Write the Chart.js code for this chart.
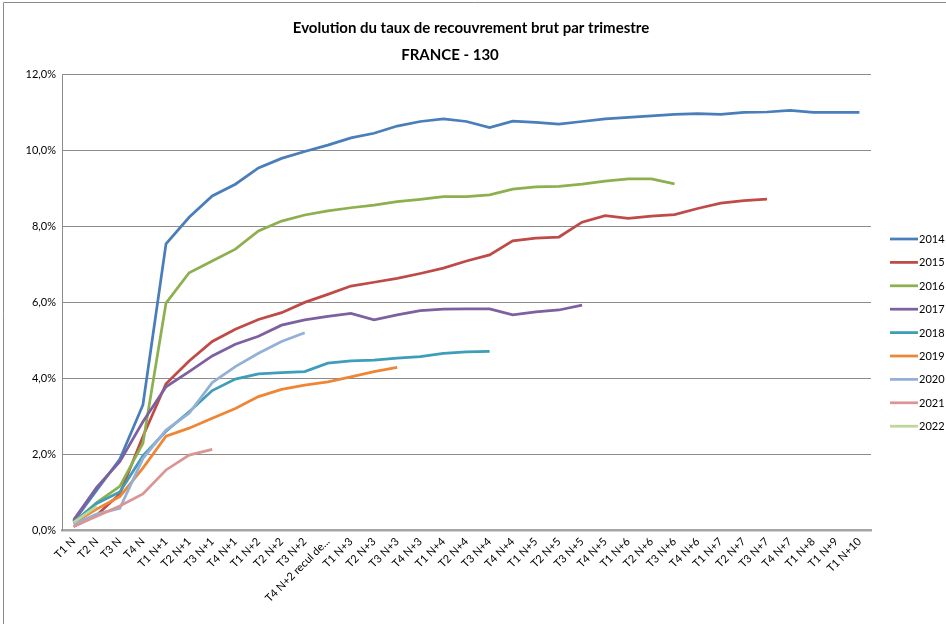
<!DOCTYPE html>
<html>
<head>
<meta charset="utf-8">
<script src="https://cdn.jsdelivr.net/npm/chart.js@4.4.1/dist/chart.umd.min.js"></script>
<style>
  html, body { margin: 0; padding: 0; background: #ffffff; }
  #wrap { position: relative; width: 946px; height: 624px; }
</style>
</head>
<body>
<div id="wrap"><canvas id="c" width="946" height="624"></canvas></div>
<script>
// Quarter labels along the horizontal axis
const categories = [
  'T1 N', 'T2 N', 'T3 N', 'T4 N',
  'T1 N+1', 'T2 N+1', 'T3 N+1', 'T4 N+1',
  'T1 N+2', 'T2 N+2', 'T3 N+2', 'T4 N+2 recul de...',
  'T1 N+3', 'T2 N+3', 'T3 N+3', 'T4 N+3',
  'T1 N+4', 'T2 N+4', 'T3 N+4', 'T4 N+4',
  'T1 N+5', 'T2 N+5', 'T3 N+5', 'T4 N+5',
  'T1 N+6', 'T2 N+6', 'T3 N+6', 'T4 N+6',
  'T1 N+7', 'T2 N+7', 'T3 N+7', 'T4 N+7',
  'T1 N+8', 'T1 N+9', 'T1 N+10'
];

// Gross recovery rate (%) per cohort year
const years = ['2014', '2015', '2016', '2017', '2018', '2019', '2020', '2021', '2022'];

const rate2014 = [0.22, 1.05, 1.86, 3.29, 7.53, 8.23, 8.79, 9.10, 9.53, 9.78, 9.96, 10.13,
  10.32, 10.44, 10.63, 10.75, 10.82, 10.75, 10.59, 10.76, 10.73, 10.68, 10.75, 10.82,
  10.86, 10.90, 10.94, 10.96, 10.94, 10.99, 11.00, 11.04, 10.99, 10.99, 10.99];
const rate2015 = [0.09, 0.39, 0.95, 2.46, 3.85, 4.45, 4.96, 5.28, 5.54, 5.72, 5.99, 6.20,
  6.42, 6.52, 6.62, 6.75, 6.89, 7.08, 7.24, 7.61, 7.68, 7.71, 8.10, 8.27,
  8.20, 8.26, 8.30, 8.46, 8.60, 8.67, 8.71];
const rate2016 = [0.19, 0.72, 1.15, 2.28, 5.97, 6.77, 7.08, 7.39, 7.87, 8.13, 8.29, 8.40,
  8.48, 8.55, 8.64, 8.70, 8.77, 8.77, 8.82, 8.97, 9.03, 9.04, 9.10, 9.18,
  9.24, 9.24, 9.11];
const rate2017 = [0.26, 1.12, 1.80, 2.85, 3.77, 4.17, 4.58, 4.89, 5.10, 5.39, 5.53, 5.62,
  5.70, 5.53, 5.66, 5.77, 5.81, 5.82, 5.82, 5.66, 5.74, 5.79, 5.92];
const rate2018 = [0.20, 0.70, 1.00, 1.95, 2.60, 3.11, 3.67, 3.97, 4.11, 4.14, 4.17, 4.39,
  4.45, 4.47, 4.52, 4.56, 4.65, 4.69, 4.70];
const rate2019 = [0.18, 0.55, 0.88, 1.63, 2.47, 2.68, 2.94, 3.20, 3.51, 3.70, 3.81, 3.90,
  4.03, 4.17, 4.28];
const rate2020 = [0.15, 0.42, 0.57, 1.88, 2.63, 3.07, 3.88, 4.30, 4.65, 4.96, 5.19];
const rate2021 = [0.09, 0.36, 0.63, 0.95, 1.58, 1.97, 2.12];
const rate2022 = [0.20, 0.62];

const yTicks = [0, 2, 4, 6, 8, 10, 12];

const seriesValues = [rate2014, rate2015, rate2016, rate2017, rate2018, rate2019, rate2020, rate2021, rate2022];
const lineColors = ['#4A7EBB', '#BE4B48', '#8DB04E', '#7D60A0', '#3E9DB8', '#EE8636', '#94B0D6', '#DA9694', '#BFD59B'];

const FONT = 'Lato, "Open Sans", "Liberation Sans", sans-serif';

const datasets = years.map((y, i) => ({
  label: y,
  data: seriesValues[i],
  borderColor: lineColors[i],
  backgroundColor: lineColors[i],
  borderWidth: 2.75,
  pointRadius: 0,
  pointHoverRadius: 0,
  tension: 0,
  fill: false,
  order: years.length - i
}));

// Titles, frame and legend drawn on the canvas
const decorations = {
  id: 'decorations',
  beforeDraw(chart) {
    const ctx = chart.ctx;
    ctx.save();
    ctx.fillStyle = '#ffffff';
    ctx.fillRect(0, 0, chart.width, chart.height);
    ctx.strokeStyle = '#8a8a8a';
    ctx.lineWidth = 1;
    ctx.beginPath();
    ctx.moveTo(3.5, chart.height);
    ctx.lineTo(3.5, 2.5);
    ctx.lineTo(chart.width, 2.5);
    ctx.stroke();
    ctx.restore();
  },
  afterDraw(chart) {
    const ctx = chart.ctx;
    ctx.save();
    ctx.fillStyle = '#000000';
    ctx.textAlign = 'center';
    ctx.textBaseline = 'middle';
    ctx.font = 'bold 15px ' + FONT;
    ctx.fillText('Evolution du taux de recouvrement brut par trimestre', 471, 28);
    ctx.fillText('FRANCE - 130', 450, 55);

    // legend
    ctx.font = '11px ' + FONT;
    ctx.textAlign = 'left';
    chart.data.datasets.forEach((ds, i) => {
      const y = 239 + i * 23.4;
      ctx.strokeStyle = ds.borderColor;
      ctx.lineWidth = 2.75;
      ctx.beginPath();
      ctx.moveTo(890, y);
      ctx.lineTo(918, y);
      ctx.stroke();
      ctx.fillStyle = '#000000';
      ctx.fillText(ds.label, 919, y + 0.5);
    });
    ctx.restore();
  }
};

new Chart(document.getElementById('c'), {
  type: 'line',
  data: { labels: categories, datasets },
  plugins: [decorations],
  options: {
    responsive: false,
    animation: false,
    devicePixelRatio: 1,
    layout: { padding: { left: 2, top: 74, right: 75, bottom: 0 } },
    plugins: {
      legend: { display: false },
      title: { display: false },
      tooltip: { enabled: false }
    },
    scales: {
      x: {
        offset: true,
        grid: { display: false, drawTicks: false },
        border: { color: '#a6a6a6', width: 2.5 },
        ticks: {
          autoSkip: false,
          minRotation: 45,
          maxRotation: 45,
          padding: 5,
          color: '#000000',
          font: { family: FONT, size: 11 }
        },
        afterFit(scale) { scale.height = 94; }
      },
      y: {
        min: yTicks[0],
        max: yTicks[yTicks.length - 1],
        afterBuildTicks(scale) { scale.ticks = yTicks.map(v => ({ value: v })); },
        grid: { color: '#8c8c8c', lineWidth: 1, drawTicks: false },
        border: { color: '#8c8c8c', width: 1 },
        ticks: {
          padding: 6,
          color: '#000000',
          font: { family: FONT, size: 11 },
          callback: v => v.toFixed(1).replace('.', ',') + '%'
        },
        afterFit(scale) { scale.width = 60; }
      }
    }
  }
});
</script>
</body>
</html>
